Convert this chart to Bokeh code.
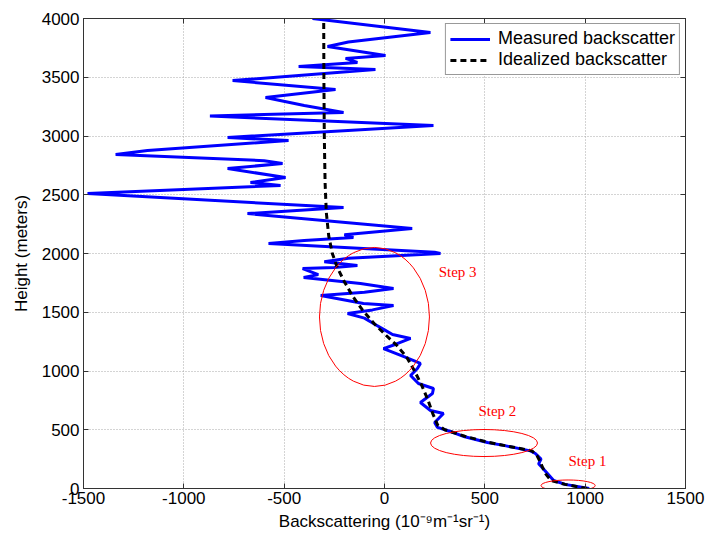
from bokeh.plotting import figure
from bokeh.models import (Range1d, LinearAxis, Legend, LegendItem, FixedTicker, Label,
                          ColumnDataSource, CustomLabelingPolicy)
from bokeh.embed import file_html
from bokeh.resources import INLINE

# Measured backscatter profile (x: backscattering, y: height in m)
meas_x = [1020, 900, 843, 812, 790, 768, 780, 752, 727, 600, 513, 400, 329, 264, 250, 294, 229, 179,
          239, 244, 169, 130, 164, 179, 100, -5, 60, 130, 40, 0, -55, -100, -184, -60, 45, -105, -318,
          -100, 45, -120, -403, -330, -408, -250, -135, -300, -180, 279, 250, -578, -400, -155, -200,
          138, -683, -204, -1480, -518, -668, -493, -782, -508, -600, -1340, -1181, -478, -782, 244,
          -870, -204, -400, -593, -244, -757, -45, -428, -135, -194, 5, -284, -180, 229, -359]
meas_y = [0, 35, 68, 128, 170, 210, 250, 298, 320, 365, 391, 440, 485, 520, 562, 638, 664, 732,
          808, 851, 894, 962, 1021, 1064, 1120, 1191, 1230, 1277, 1310, 1350, 1404, 1450, 1489, 1520,
          1557, 1574, 1642, 1670, 1702, 1745, 1796, 1820, 1872, 1880, 1898, 1930, 1960, 2000, 2010,
          2085, 2110, 2136, 2160, 2213, 2340, 2391, 2510, 2579, 2604, 2647, 2723, 2766, 2790, 2843,
          2877, 2962, 2987, 3089, 3170, 3200, 3260, 3328, 3396, 3472, 3566, 3591, 3626, 3660, 3685,
          3762, 3800, 3881, 4000]

# Idealized backscatter profile
ideal_x = [1010, 900, 830, 805, 790, 775, 760, 735, 600, 500, 400, 300, 265, 240, 215, 185, 150, 110,
           60, 10, -50, -110, -160, -200, -235, -260, -278, -290, -296, -300, -302, -303]
ideal_y = [0, 35, 68, 120, 170, 230, 280, 320, 365, 400, 445, 500, 540, 640, 760, 880, 1000, 1120,
           1220, 1300, 1400, 1520, 1640, 1760, 1880, 2000, 2150, 2350, 2600, 3000, 3500, 4000]

# Annotation ellipses (center x, center y, width, height) and labels
ell_x = [915, 496, -50]
ell_y = [25, 387, 1460]
ell_w = [270, 533, 548]
ell_h = [95, 230, 1183]
step_text = ["Step 1", "Step 2", "Step 3"]
step_x = [917, 468, 270]
step_y = [238, 663, 1845]

x_ticks = [-1500, -1000, -500, 0, 500, 1000, 1500]
y_ticks = [0, 500, 1000, 1500, 2000, 2500, 3000, 3500, 4000]

FONT = "Liberation Sans"

p = figure(width=719, height=543, x_range=Range1d(-1500, 1500), y_range=Range1d(0, 4000),
           output_backend="svg", toolbar_location=None,
           min_border_left=83, min_border_right=34, min_border_top=18, min_border_bottom=55)
p.background_fill_color = "white"
p.border_fill_color = "white"
p.outline_line_color = "#333333"

for ax in [p.xaxis[0], p.yaxis[0]]:
    ax.major_tick_in = 5
    ax.major_tick_out = 0
    ax.minor_tick_line_color = None
    ax.axis_line_color = "#333333"
    ax.major_tick_line_color = "#333333"
    ax.major_label_text_font = FONT
    ax.major_label_text_font_size = "17px"
    ax.major_label_text_color = "black"
    ax.axis_label_text_font = FONT
    ax.axis_label_text_font_size = "17px"
    ax.axis_label_text_font_style = "normal"
    ax.axis_label_text_color = "black"

p.xaxis[0].ticker = FixedTicker(ticks=x_ticks)
p.yaxis[0].ticker = FixedTicker(ticks=y_ticks)
p.xaxis[0].major_label_overrides = {t: str(t) for t in x_ticks}
p.yaxis[0].major_label_overrides = {t: str(t) for t in y_ticks}
p.xaxis[0].major_label_standoff = 3
p.yaxis[0].major_label_standoff = 4
p.xaxis[0].axis_label = "Backscattering (10\u207b\u2079m\u207b\u00b9sr\u207b\u00b9)"
p.yaxis[0].axis_label = "Height (meters)"
p.xaxis[0].axis_label_standoff = 5
p.yaxis[0].axis_label_standoff = 8

# mirrored axes with inward ticks (MATLAB box style), no labels
hide = "for (let i = 0; i < indices.size; i++) { indices.unset(i) } return indices"
top = LinearAxis(ticker=FixedTicker(ticks=x_ticks), major_tick_in=5, major_tick_out=0,
                 minor_tick_line_color=None, major_label_policy=CustomLabelingPolicy(code=hide),
                 axis_line_color="#333333", major_tick_line_color="#333333", major_label_standoff=0)
right = LinearAxis(ticker=FixedTicker(ticks=y_ticks), major_tick_in=5, major_tick_out=0,
                   minor_tick_line_color=None, major_label_policy=CustomLabelingPolicy(code=hide),
                   axis_line_color="#333333", major_tick_line_color="#333333", major_label_standoff=0)
p.add_layout(top, "above")
p.add_layout(right, "right")

p.xgrid.ticker = FixedTicker(ticks=x_ticks)
p.ygrid.ticker = FixedTicker(ticks=y_ticks)
p.grid.grid_line_color = "#a8a8a8"
p.grid.grid_line_dash = "1 2"
p.grid.grid_line_width = 1

r_meas = p.line(meas_x, meas_y, line_color="#0000ff", line_width=3)
r_ideal = p.line(ideal_x, ideal_y, line_color="black", line_width=3, line_dash="6 4")

ell_src = ColumnDataSource(dict(x=ell_x, y=ell_y, w=ell_w, h=ell_h))
p.ellipse(x="x", y="y", width="w", height="h", source=ell_src, fill_color=None,
          line_color="red", line_width=1)

for t, xx, yy in zip(step_text, step_x, step_y):
    p.add_layout(Label(x=xx, y=yy, text=t, text_font="Liberation Serif", text_font_size="15px",
                       text_color="red", text_baseline="middle", text_align="left"))

legend = Legend(items=[LegendItem(label="Measured backscatter", renderers=[r_meas]),
                       LegendItem(label="Idealized backscatter", renderers=[r_ideal])],
                location="top_right")
legend.label_text_font = FONT
legend.label_text_font_size = "18px"
legend.label_text_color = "black"
legend.glyph_width = 40
legend.glyph_height = 20
legend.spacing = 0
legend.padding = 4
legend.margin = 5
legend.border_line_color = "#333333"
legend.border_line_width = 1
legend.background_fill_alpha = 1.0
legend.label_standoff = 8
legend.label_height = 20
p.add_layout(legend)

open("out.html", "w").write(file_html(p, INLINE))
